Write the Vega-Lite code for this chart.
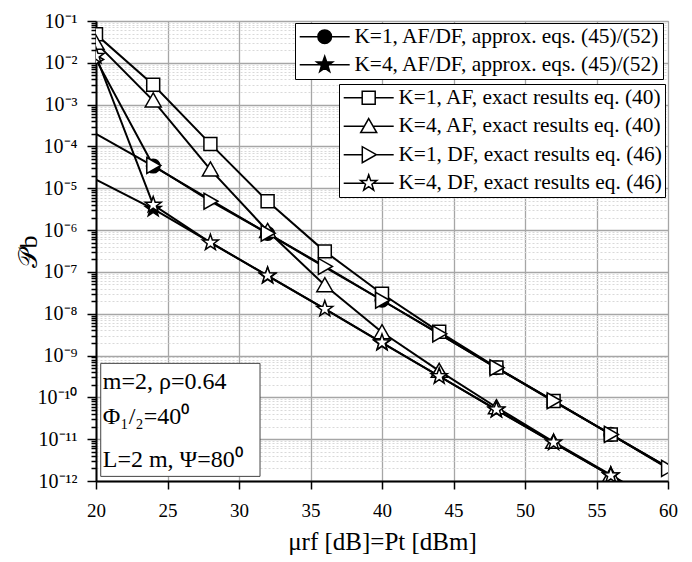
{
  "$schema": "https://vega.github.io/schema/vega-lite/v6.json",
  "width": 572,
  "height": 460,
  "autosize": {"type": "none"},
  "padding": {"left": 96, "top": 21, "right": 24, "bottom": 81},
  "background": "white",
  "config": {
    "view": {"stroke": "#999999", "strokeWidth": 1},
    "font": "Liberation Serif",
    "axis": {"labelFont": "Liberation Serif", "titleFont": "Liberation Serif", "titleFontWeight": "normal", "titleColor": "black", "labelColor": "black"},
    "legend": {"labelFont": "Liberation Serif"}
  },
  "data": {
    "values": [
      {"series": "K=1, AF/DF, approx. eqs. (45)/(52)", "x": 20, "y": 2e-4},
      {"series": "K=1, AF/DF, approx. eqs. (45)/(52)", "x": 24, "y": 3.4e-5},
      {"series": "K=1, AF/DF, approx. eqs. (45)/(52)", "x": 28, "y": 5.3e-6},
      {"series": "K=1, AF/DF, approx. eqs. (45)/(52)", "x": 32, "y": 8.3e-7},
      {"series": "K=1, AF/DF, approx. eqs. (45)/(52)", "x": 36, "y": 1.3e-7},
      {"series": "K=1, AF/DF, approx. eqs. (45)/(52)", "x": 40, "y": 2.1e-8},
      {"series": "K=1, AF/DF, approx. eqs. (45)/(52)", "x": 44, "y": 3.3e-9},
      {"series": "K=1, AF/DF, approx. eqs. (45)/(52)", "x": 48, "y": 5.1e-10},
      {"series": "K=1, AF/DF, approx. eqs. (45)/(52)", "x": 52, "y": 8e-11},
      {"series": "K=1, AF/DF, approx. eqs. (45)/(52)", "x": 56, "y": 1.3e-11},
      {"series": "K=1, AF/DF, approx. eqs. (45)/(52)", "x": 60, "y": 2.1e-12},
      {"series": "K=4, AF/DF, approx. eqs. (45)/(52)", "x": 20, "y": 1.6e-5},
      {"series": "K=4, AF/DF, approx. eqs. (45)/(52)", "x": 24, "y": 3.2e-6},
      {"series": "K=4, AF/DF, approx. eqs. (45)/(52)", "x": 28, "y": 5.1e-7},
      {"series": "K=4, AF/DF, approx. eqs. (45)/(52)", "x": 32, "y": 8e-8},
      {"series": "K=4, AF/DF, approx. eqs. (45)/(52)", "x": 36, "y": 1.3e-8},
      {"series": "K=4, AF/DF, approx. eqs. (45)/(52)", "x": 40, "y": 2e-9},
      {"series": "K=4, AF/DF, approx. eqs. (45)/(52)", "x": 44, "y": 3.2e-10},
      {"series": "K=4, AF/DF, approx. eqs. (45)/(52)", "x": 48, "y": 5e-11},
      {"series": "K=4, AF/DF, approx. eqs. (45)/(52)", "x": 52, "y": 8.2e-12},
      {"series": "K=4, AF/DF, approx. eqs. (45)/(52)", "x": 56, "y": 1.35e-12},
      {"series": "K=4, AF/DF, approx. eqs. (45)/(52)", "x": 60, "y": 2.1e-13},
      {"series": "K=1, AF, exact results eq. (40)", "x": 20, "y": 4.8e-2},
      {"series": "K=1, AF, exact results eq. (40)", "x": 24, "y": 3e-3},
      {"series": "K=1, AF, exact results eq. (40)", "x": 28, "y": 1.15e-4},
      {"series": "K=1, AF, exact results eq. (40)", "x": 32, "y": 4.9e-6},
      {"series": "K=1, AF, exact results eq. (40)", "x": 36, "y": 3.1e-7},
      {"series": "K=1, AF, exact results eq. (40)", "x": 40, "y": 3e-8},
      {"series": "K=1, AF, exact results eq. (40)", "x": 44, "y": 3.7e-9},
      {"series": "K=1, AF, exact results eq. (40)", "x": 48, "y": 5.2e-10},
      {"series": "K=1, AF, exact results eq. (40)", "x": 52, "y": 8.2e-11},
      {"series": "K=1, AF, exact results eq. (40)", "x": 56, "y": 1.3e-11},
      {"series": "K=1, AF, exact results eq. (40)", "x": 60, "y": 2.1e-12},
      {"series": "K=4, AF, exact results eq. (40)", "x": 20, "y": 3e-2},
      {"series": "K=4, AF, exact results eq. (40)", "x": 24, "y": 1.25e-3},
      {"series": "K=4, AF, exact results eq. (40)", "x": 28, "y": 2.8e-5},
      {"series": "K=4, AF, exact results eq. (40)", "x": 32, "y": 9.5e-7},
      {"series": "K=4, AF, exact results eq. (40)", "x": 36, "y": 4.8e-8},
      {"series": "K=4, AF, exact results eq. (40)", "x": 40, "y": 3.6e-9},
      {"series": "K=4, AF, exact results eq. (40)", "x": 44, "y": 4.3e-10},
      {"series": "K=4, AF, exact results eq. (40)", "x": 48, "y": 5.8e-11},
      {"series": "K=4, AF, exact results eq. (40)", "x": 52, "y": 8.6e-12},
      {"series": "K=4, AF, exact results eq. (40)", "x": 56, "y": 1.4e-12},
      {"series": "K=4, AF, exact results eq. (40)", "x": 60, "y": 2.2e-13},
      {"series": "K=1, DF, exact results eq. (46)", "x": 20, "y": 1.2e-2},
      {"series": "K=1, DF, exact results eq. (46)", "x": 24, "y": 3.5e-5},
      {"series": "K=1, DF, exact results eq. (46)", "x": 28, "y": 4.9e-6},
      {"series": "K=1, DF, exact results eq. (46)", "x": 32, "y": 8.4e-7},
      {"series": "K=1, DF, exact results eq. (46)", "x": 36, "y": 1.35e-7},
      {"series": "K=1, DF, exact results eq. (46)", "x": 40, "y": 2.1e-8},
      {"series": "K=1, DF, exact results eq. (46)", "x": 44, "y": 3.3e-9},
      {"series": "K=1, DF, exact results eq. (46)", "x": 48, "y": 5.1e-10},
      {"series": "K=1, DF, exact results eq. (46)", "x": 52, "y": 8.3e-11},
      {"series": "K=1, DF, exact results eq. (46)", "x": 56, "y": 1.3e-11},
      {"series": "K=1, DF, exact results eq. (46)", "x": 60, "y": 2e-12},
      {"series": "K=4, DF, exact results eq. (46)", "x": 20, "y": 1.45e-2},
      {"series": "K=4, DF, exact results eq. (46)", "x": 24, "y": 4e-6},
      {"series": "K=4, DF, exact results eq. (46)", "x": 28, "y": 5e-7},
      {"series": "K=4, DF, exact results eq. (46)", "x": 32, "y": 8.2e-8},
      {"series": "K=4, DF, exact results eq. (46)", "x": 36, "y": 1.3e-8},
      {"series": "K=4, DF, exact results eq. (46)", "x": 40, "y": 2.05e-9},
      {"series": "K=4, DF, exact results eq. (46)", "x": 44, "y": 3.2e-10},
      {"series": "K=4, DF, exact results eq. (46)", "x": 48, "y": 5.1e-11},
      {"series": "K=4, DF, exact results eq. (46)", "x": 52, "y": 8.3e-12},
      {"series": "K=4, DF, exact results eq. (46)", "x": 56, "y": 1.35e-12},
      {"series": "K=4, DF, exact results eq. (46)", "x": 60, "y": 2.1e-13}
    ]
  },
  "resolve": {"scale": {"shape": "independent"}},
  "layer": [
    {
      "mark": {"type": "line", "stroke": "black", "strokeWidth": 2, "clip": true},
      "encoding": {
        "x": {
          "field": "x", "type": "quantitative",
          "scale": {"type": "linear", "domain": [20, 60], "nice": false, "zero": false},
          "axis": {
            "title": "μrf [dB]=Pt [dBm]",
            "titleFontSize": 25,
            "titlePadding": 9,
            "values": [20, 22.5, 25, 27.5, 30, 32.5, 35, 37.5, 40, 42.5, 45, 47.5, 50, 52.5, 55, 57.5, 60],
            "labelExpr": "datum.value % 5 === 0 ? format(datum.value, 'd') : ''",
            "labelFontSize": 19,
            "labelPadding": 12,
            "labelFlush": false,
            "labelOverlap": false,
            "domainColor": "black",
            "domainWidth": 2,
            "tickColor": "black",
            "tickWidth": 1.5,
            "tickSize": {"condition": {"test": "datum.value % 5 === 0", "value": 8}, "value": 5},
            "grid": true,
            "gridColor": {"condition": {"test": "datum.value % 5 === 0", "value": "#a6a6a6"}, "value": "#d4d4d4"},
            "gridDash": {"condition": {"test": "datum.value % 5 === 0", "value": []}, "value": [3, 2]},
            "gridWidth": {"condition": {"test": "datum.value % 5 === 0", "value": 1.3}, "value": 1}
          }
        },
        "y": {
          "field": "y", "type": "quantitative",
          "scale": {"type": "log", "domain": [1e-12, 0.1], "nice": false},
          "axis": {
            "title": "𝒫b",
            "titleFontSize": 26,
            "titleX": -68,
            "titleBaseline": "middle",
            "values": [1e-12, 2e-12, 3e-12, 4e-12, 5e-12, 6e-12, 7e-12, 8e-12, 9e-12,
                       1e-11, 2e-11, 3e-11, 4e-11, 5e-11, 6e-11, 7e-11, 8e-11, 9e-11,
                       1e-10, 2e-10, 3e-10, 4e-10, 5e-10, 6e-10, 7e-10, 8e-10, 9e-10,
                       1e-9, 2e-9, 3e-9, 4e-9, 5e-9, 6e-9, 7e-9, 8e-9, 9e-9,
                       1e-8, 2e-8, 3e-8, 4e-8, 5e-8, 6e-8, 7e-8, 8e-8, 9e-8,
                       1e-7, 2e-7, 3e-7, 4e-7, 5e-7, 6e-7, 7e-7, 8e-7, 9e-7,
                       1e-6, 2e-6, 3e-6, 4e-6, 5e-6, 6e-6, 7e-6, 8e-6, 9e-6,
                       1e-5, 2e-5, 3e-5, 4e-5, 5e-5, 6e-5, 7e-5, 8e-5, 9e-5,
                       1e-4, 2e-4, 3e-4, 4e-4, 5e-4, 6e-4, 7e-4, 8e-4, 9e-4,
                       1e-3, 2e-3, 3e-3, 4e-3, 5e-3, 6e-3, 7e-3, 8e-3, 9e-3,
                       1e-2, 2e-2, 3e-2, 4e-2, 5e-2, 6e-2, 7e-2, 8e-2, 9e-2, 0.1],
            "labelExpr": "abs(log(datum.value)/LN10 - round(log(datum.value)/LN10)) < 1e-6 ? '10' + ['⁰','⁻¹','⁻²','⁻³','⁻⁴','⁻⁵','⁻⁶','⁻⁷','⁻⁸','⁻⁹','⁻¹⁰','⁻¹¹','⁻¹²'][round(-log(datum.value)/LN10)] : ''",
            "labelFontSize": 20,
            "labelPadding": 10,
            "labelOverlap": false,
            "labelFlush": false,
            "domainColor": "black",
            "domainWidth": 2,
            "tickColor": "black",
            "tickWidth": 1.5,
            "tickSize": {"condition": {"test": "abs(log(datum.value)/LN10 - round(log(datum.value)/LN10)) < 1e-6", "value": 9}, "value": 5},
            "grid": true,
            "gridColor": {"condition": {"test": "abs(log(datum.value)/LN10 - round(log(datum.value)/LN10)) < 1e-6", "value": "#a6a6a6"}, "value": "#d9d9d9"},
            "gridDash": {"condition": {"test": "abs(log(datum.value)/LN10 - round(log(datum.value)/LN10)) < 1e-6", "value": []}, "value": [2, 2]},
            "gridWidth": {"condition": {"test": "abs(log(datum.value)/LN10 - round(log(datum.value)/LN10)) < 1e-6", "value": 1.3}, "value": 1}
          }
        },
        "detail": {"field": "series"}
      }
    },
    {
      "transform": [{"filter": "(indexof(datum.series, 'approx') < 0 && (datum.x < 60 || indexof(datum.series, 'DF, exact') >= 0)) || (indexof(datum.series, 'approx') >= 0 && datum.x % 8 === 0 && datum.x > 20)"}],
      "mark": {"type": "point", "filled": true, "size": 256, "stroke": "black", "strokeWidth": 1.5, "opacity": 1, "clip": true},
      "encoding": {
        "x": {"field": "x", "type": "quantitative"},
        "y": {"field": "y", "type": "quantitative"},
        "shape": {
          "field": "series", "type": "nominal",
          "scale": {
            "domain": ["K=1, AF/DF, approx. eqs. (45)/(52)", "K=4, AF/DF, approx. eqs. (45)/(52)", "K=1, AF, exact results eq. (40)", "K=4, AF, exact results eq. (40)", "K=1, DF, exact results eq. (46)", "K=4, DF, exact results eq. (46)"],
            "range": [
              "M-0.85,0A0.85,0.85 0 1,0 0.85,0A0.85,0.85 0 1,0 -0.85,0Z",
              "M0,-1.05L0.247,-0.34L1,-0.325L0.4,0.13L0.618,0.85L0,0.42L-0.618,0.85L-0.4,0.13L-1,-0.325L-0.247,-0.34Z",
              "M-0.81,-0.81H0.81V0.81H-0.81Z",
              "M0,-0.95L1,0.8L-1,0.8Z",
              "M0.95,0L-0.8,-1L-0.8,1Z",
              "M0,-1.05L0.247,-0.34L1,-0.325L0.4,0.13L0.618,0.85L0,0.42L-0.618,0.85L-0.4,0.13L-1,-0.325L-0.247,-0.34Z"
            ]
          },
          "legend": null
        },
        "fill": {"condition": {"test": "indexof(datum.series, 'approx') >= 0", "value": "black"}, "value": "white"}
      }
    },
    {
      "data": {"values": [{}]},
      "mark": {"type": "rect", "fill": "white", "stroke": "#444444", "strokeWidth": 1},
      "encoding": {
        "x": {"datum": 20.33, "type": "quantitative"},
        "x2": {"datum": 31.47},
        "y": {"datum": 6.5e-10, "type": "quantitative"},
        "y2": {"datum": 1.29e-12}
      }
    },
    {
      "data": {"values": [{}]},
      "mark": {"type": "text", "align": "left", "baseline": "alphabetic", "fontSize": 24, "font": "Liberation Serif", "color": "black"},
      "encoding": {
        "x": {"datum": 20.47, "type": "quantitative"},
        "y": {"datum": 1.56e-10, "type": "quantitative"},
        "text": {"value": "m=2, ρ=0.64"}
      }
    },
    {
      "data": {"values": [{}]},
      "mark": {"type": "text", "align": "left", "baseline": "alphabetic", "fontSize": 24, "font": "Liberation Serif", "color": "black"},
      "encoding": {
        "x": {"datum": 20.47, "type": "quantitative"},
        "y": {"datum": 2.27e-11, "type": "quantitative"},
        "text": {"value": "Φ₁/₂=40⁰"}
      }
    },
    {
      "data": {"values": [{}]},
      "mark": {"type": "text", "align": "left", "baseline": "alphabetic", "fontSize": 24, "font": "Liberation Serif", "color": "black"},
      "encoding": {
        "x": {"datum": 20.47, "type": "quantitative"},
        "y": {"datum": 2.13e-12, "type": "quantitative"},
        "text": {"value": "L=2 m, Ψ=80⁰"}
      }
    },
    {
      "transform": [{"filter": "indexof(datum.series, 'approx') >= 0"}],
      "mark": {"type": "point", "filled": true, "fill": "black", "stroke": "black", "strokeWidth": 1.8, "size": 4, "opacity": 0},
      "encoding": {
        "x": {"field": "x", "type": "quantitative"},
        "y": {"field": "y", "type": "quantitative"},
        "shape": {
          "field": "series", "type": "nominal",
          "scale": {
            "domain": ["K=1, AF/DF, approx. eqs. (45)/(52)", "K=4, AF/DF, approx. eqs. (45)/(52)"],
            "range": [
              "M-25,0H-6.8M6.8,0H25M-6.8,0A6.8,6.8 0 1,0 6.8,0A6.8,6.8 0 1,0 -6.8,0Z",
              "M-25,0H-4.6M4.6,0H25M0,-8.5L2,-2.75L8.08,-2.63L3.23,1.05L5,6.88L0,3.4L-5,6.88L-3.23,1.05L-8.08,-2.63L-2,-2.75Z"
            ]
          },
          "legend": {
            "title": null, "orient": "none", "legendX": 199, "legendY": 2,
            "symbolSize": 4, "symbolOffset": 16, "labelOffset": 19, "labelFontSize": 21.4, "labelColor": "black", "labelLimit": 600,
            "padding": 3, "rowPadding": 5, "strokeColor": "black", "fillColor": "white",
            "encode": {"symbols": {"update": {"fill": {"value": "black"}, "stroke": {"value": "black"}, "strokeWidth": {"value": 1.8}, "opacity": {"value": 1}}}}
          }
        }
      }
    },
    {
      "transform": [{"filter": "indexof(datum.series, 'approx') < 0"}],
      "mark": {"type": "point", "filled": true, "fill": "white", "stroke": "black", "strokeWidth": 1.8, "size": 4, "opacity": 0},
      "encoding": {
        "x": {"field": "x", "type": "quantitative"},
        "y": {"field": "y", "type": "quantitative"},
        "shape": {
          "field": "series", "type": "nominal",
          "scale": {
            "domain": ["K=1, AF, exact results eq. (40)", "K=4, AF, exact results eq. (40)", "K=1, DF, exact results eq. (46)", "K=4, DF, exact results eq. (46)"],
            "range": [
              "M-25,0H-6.5M6.5,0H25M-6.5,-6.5H6.5V6.5H-6.5Z",
              "M-25,0H-4.3M4.3,0H25M0,-7.6L8,6.4L-8,6.4Z",
              "M-25,0H-6.4M7.6,0H25M7.6,0L-6.4,-8L-6.4,8Z",
              "M-25,0H-4.6M4.6,0H25M0,-8.5L2,-2.75L8.08,-2.63L3.23,1.05L5,6.88L0,3.4L-5,6.88L-3.23,1.05L-8.08,-2.63L-2,-2.75Z"
            ]
          },
          "legend": {
            "title": null, "orient": "none", "legendX": 243, "legendY": 63,
            "symbolSize": 4, "symbolOffset": 16, "labelOffset": 19, "labelFontSize": 21.4, "labelColor": "black", "labelLimit": 600,
            "padding": 3, "rowPadding": 5.5, "strokeColor": "black", "fillColor": "white",
            "encode": {"symbols": {"update": {"fill": {"value": "white"}, "stroke": {"value": "black"}, "strokeWidth": {"value": 1.8}, "opacity": {"value": 1}}}}
          }
        }
      }
    }
  ]
}
